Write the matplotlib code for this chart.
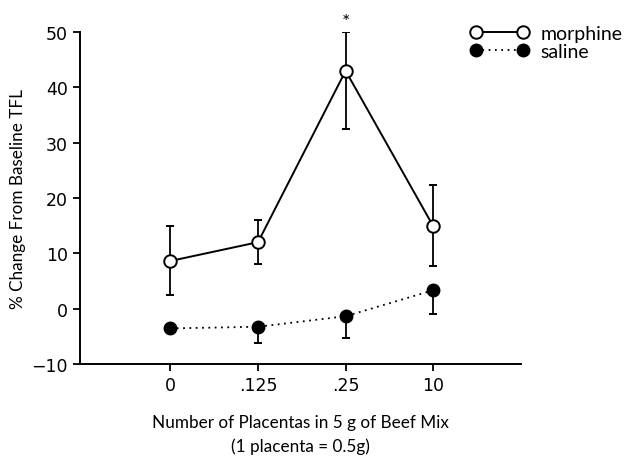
import matplotlib
matplotlib.use('Agg')
import matplotlib.pyplot as plt

plt.rcParams['font.family'] = ['Lato', 'DejaVu Sans']

doses = ['0', '.125', '.25', '10']
morphine = [8.6, 12.0, 43.0, 14.9]
morphine_up = [6.3, 4.0, 7.0, 7.5]
morphine_dn = [6.2, 4.0, 10.5, 7.3]
saline = [-3.6, -3.3, -1.4, 3.3]
saline_dn = [0.0, 2.9, 4.0, 4.3]

fig = plt.figure(figsize=(6.32, 4.60), dpi=100)
ax = fig.add_axes([0.127, 0.207, 0.697, 0.721])
xs = list(range(1, len(doses) + 1))

# error bars first so markers sit on top
ax.errorbar(xs, morphine, yerr=[morphine_dn, morphine_up], fmt='none',
            ecolor='black', elinewidth=1.3, capsize=3, capthick=1.4, zorder=1)
ax.errorbar(xs, saline, yerr=[saline_dn, [0] * len(saline)], fmt='none',
            ecolor='black', elinewidth=1.3, capsize=3, capthick=1.4, zorder=1)

ax.plot(xs, morphine, 'o-', color='black', lw=1.4, ms=9,
        mfc='white', mec='black', mew=1.4, label='morphine', zorder=3)
ax.plot(xs, saline, 'o', ls=(0, (1, 2.5)), color='black', lw=1.3, ms=9,
        mfc='black', mec='black', label='saline', zorder=3)

ax.text(3, 52.0, '*', ha='center', va='center', fontsize=14)

ax.set_xlim(-0.03, 5.0)
ax.set_ylim(-10, 50)
ax.set_xticks(xs)
ax.set_xticklabels(doses)
ax.set_yticks(range(-10, 51, 10))
ax.spines['top'].set_visible(False)
ax.spines['right'].set_visible(False)
for s in ('left', 'bottom'):
    ax.spines[s].set_linewidth(1.4)
ax.tick_params(direction='out', length=5, width=1.3, pad=4)
for lab in ax.get_xticklabels() + ax.get_yticklabels():
    lab.set_fontfamily('DejaVu Sans')
    lab.set_fontsize(12.5)
ax.set_ylabel('% Change From Baseline TFL', fontsize=12.3, labelpad=4)
ax.set_xlabel('Number of Placentas in 5 g of Beef Mix\n(1 placenta = 0.5g)',
              fontsize=12.3, labelpad=14, linespacing=1.55)

fig.legend(loc='upper right', bbox_to_anchor=(1.0, 0.965), numpoints=2,
           frameon=False, fontsize=14, handlelength=3.0, handletextpad=0.6,
           labelspacing=0.05, borderaxespad=0.1)

fig.savefig('out.png', dpi=100)
